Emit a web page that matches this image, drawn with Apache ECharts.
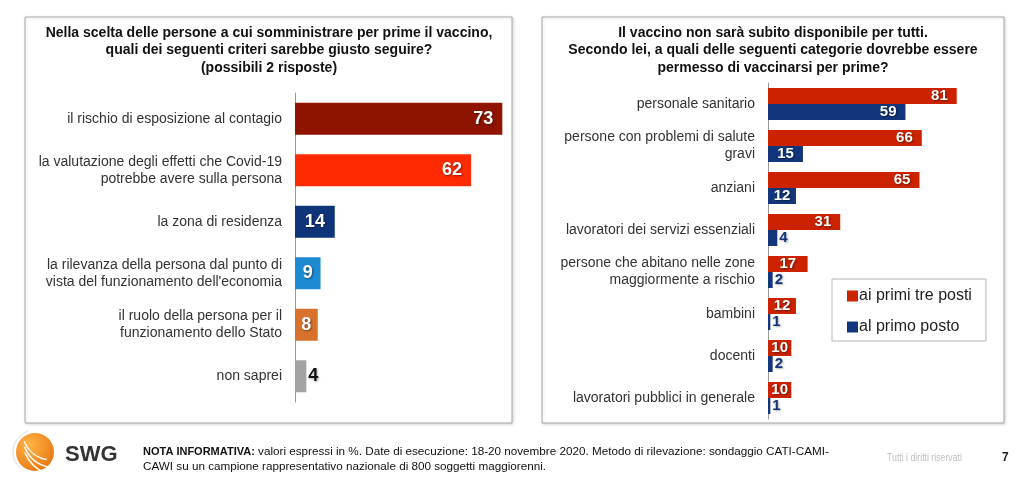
<!DOCTYPE html>
<html>
<head>
<meta charset="utf-8">
<script src="https://cdn.jsdelivr.net/npm/echarts@6/dist/echarts.min.js"></script>
<style>
html,body{margin:0;padding:0;background:#fff;}
#chart{width:1024px;height:485px;}
</style>
</head>
<body>
<div id="chart"></div>
<script>
// ---- Data ----
var leftCategories = [
  'il rischio di esposizione al contagio',
  'la valutazione degli effetti che Covid-19\npotrebbe avere sulla persona',
  'la zona di residenza',
  'la rilevanza della persona dal punto di\nvista del funzionamento dell\'economia',
  'il ruolo della persona per il\nfunzionamento dello Stato',
  'non saprei'
];
var leftValues = [73, 62, 14, 9, 8, 4];

var rightCategories = [
  'personale sanitario',
  'persone con problemi di salute\ngravi',
  'anziani',
  'lavoratori dei servizi essenziali',
  'persone che abitano nelle zone\nmaggiormente a rischio',
  'bambini',
  'docenti',
  'lavoratori pubblici in generale'
];
var seriesTop3Name = 'ai primi tre posti';
var seriesTop3 = [81, 66, 65, 31, 17, 12, 10, 10];
var seriesFirstName = 'al primo posto';
var seriesFirst = [59, 15, 12, 4, 2, 1, 2, 1];

// ---- Styles ----
var leftPalette = ['#8E1400', '#FF2A00', '#0E347A', '#1D8AD2', '#D8712C', '#A3A3A3'];
var redColor = '#CC2200';
var navyColor = '#12357B';
var FONT = '"Liberation Sans", Arial, Helvetica, sans-serif';
var shadow = {textShadowColor: 'rgba(0,0,0,0.45)', textShadowBlur: 2, textShadowOffsetX: 1, textShadowOffsetY: 1};
var softShadow = {textShadowColor: 'rgba(0,0,0,0.3)', textShadowBlur: 2, textShadowOffsetX: 1, textShadowOffsetY: 1};

function labelFor(v, minInside, outsideColor, size) {
  var inside = v >= minInside;
  var pos = !inside ? 'right' : (v < 20 ? 'inside' : 'insideRight');
  return Object.assign({
    show: true,
    position: pos,
    distance: inside ? 9 : 2,
    color: inside ? '#fff' : outsideColor,
    fontSize: size,
    fontWeight: 'bold',
    fontFamily: FONT
  }, inside ? shadow : softShadow);
}

var leftData = leftValues.map(function (v, i) {
  return {value: v, itemStyle: {color: leftPalette[i]}, label: labelFor(v, 8, '#111', 18)};
});
var top3Data = seriesTop3.map(function (v) {
  return {value: v, label: labelFor(v, 8, redColor, 15)};
});
var firstData = seriesFirst.map(function (v) {
  return {value: v, label: labelFor(v, 12, navyColor, 15)};
});

var chart = echarts.init(document.getElementById('chart'), null, {renderer: 'canvas'});

var option = {
  backgroundColor: '#fff',
  animation: false,
  textStyle: {fontFamily: FONT},
  legend: {
    data: [seriesTop3Name, seriesFirstName],
    orient: 'vertical',
    left: 832,
    top: 279,
    width: 155,
    itemWidth: 11,
    itemHeight: 11,
    itemGap: 15,
    icon: 'rect',
    padding: [9, 14, 6, 15],
    borderColor: '#b5b5b5',
    borderWidth: 1,
    textStyle: {fontSize: 16, color: '#222', fontFamily: FONT, padding: [0, 0, 0, -4]}
  },
  grid: [
    {left: 295, top: 93, width: 284, height: 309},
    {left: 768, top: 83, width: 233, height: 336}
  ],
  xAxis: [
    {gridIndex: 0, type: 'value', min: 0, max: 100, show: false},
    {gridIndex: 1, type: 'value', min: 0, max: 100, show: false}
  ],
  yAxis: [
    {
      gridIndex: 0, type: 'category', inverse: true, data: leftCategories,
      axisLine: {show: true, lineStyle: {color: '#9a9a9a', width: 1}},
      axisTick: {show: false},
      axisLabel: {fontSize: 14, color: '#333', margin: 13, lineHeight: 17, fontFamily: FONT}
    },
    {
      gridIndex: 1, type: 'category', inverse: true, data: rightCategories,
      axisLine: {show: true, lineStyle: {color: '#9a9a9a', width: 1}},
      axisTick: {show: false},
      axisLabel: {fontSize: 14, color: '#333', margin: 13, lineHeight: 17, fontFamily: FONT}
    }
  ],
  series: [
    {
      type: 'bar', xAxisIndex: 0, yAxisIndex: 0, barWidth: 32,
      data: leftData, silent: true
    },
    {
      name: seriesTop3Name, type: 'bar', xAxisIndex: 1, yAxisIndex: 1,
      barWidth: 16, barGap: '0%', itemStyle: {color: redColor},
      data: top3Data, silent: true
    },
    {
      name: seriesFirstName, type: 'bar', xAxisIndex: 1, yAxisIndex: 1,
      barWidth: 16, barGap: '0%', itemStyle: {color: navyColor},
      data: firstData, silent: true
    }
  ],
  graphic: [
    {type: 'rect', z: -10, shape: {x: 25, y: 17, width: 487, height: 406},
      style: {fill: '#fff', stroke: '#a8a8a8', lineWidth: 1, shadowColor: 'rgba(0,0,0,0.15)', shadowBlur: 3, shadowOffsetX: 1, shadowOffsetY: 1}},
    {type: 'rect', z: -10, shape: {x: 542, y: 17, width: 462, height: 406},
      style: {fill: '#fff', stroke: '#a8a8a8', lineWidth: 1, shadowColor: 'rgba(0,0,0,0.15)', shadowBlur: 3, shadowOffsetX: 1, shadowOffsetY: 1}},
    {type: 'text', x: 269, y: 24, style: {
      text: 'Nella scelta delle persone a cui somministrare per prime il vaccino,\nquali dei seguenti criteri sarebbe giusto seguire?\n(possibili 2 risposte)',
      textAlign: 'center', textVerticalAlign: 'top', fill: '#111',
      font: 'bold 14px ' + FONT, lineHeight: 17.5}},
    {type: 'text', x: 773, y: 24, style: {
      text: 'Il vaccino non sarà subito disponibile per tutti.\nSecondo lei, a quali delle seguenti categorie dovrebbe essere\npermesso di vaccinarsi per prime?',
      textAlign: 'center', textVerticalAlign: 'top', fill: '#111',
      font: 'bold 14px ' + FONT, lineHeight: 17.5}},
    // logo
    {type: 'circle', shape: {cx: 35, cy: 452, r: 19},
      style: {fill: new echarts.graphic.RadialGradient(0.35, 0.3, 0.8, [{offset: 0, color: '#FFB347'}, {offset: 1, color: '#E8760F'}])}},
    {type: 'arc', shape: {cx: 52, cy: 430, r: 30, startAngle: 1.75, endAngle: 2.75}, style: {stroke: '#fff', lineWidth: 1.5, fill: null}},
    {type: 'arc', shape: {cx: 56, cy: 434, r: 34, startAngle: 1.8, endAngle: 2.75}, style: {stroke: '#fff', lineWidth: 1.5, fill: null}},
    {type: 'arc', shape: {cx: 60, cy: 438, r: 38, startAngle: 1.95, endAngle: 2.75}, style: {stroke: '#fff', lineWidth: 1.5, fill: null}},
    {type: 'arc', shape: {cx: 35, cy: 452, r: 22, startAngle: 2.3, endAngle: 4.4}, style: {stroke: '#ddd', lineWidth: 1, fill: null}},
    {type: 'text', x: 65, y: 455, style: {text: 'SWG', font: 'bold 22px ' + FONT, fill: '#333', textVerticalAlign: 'middle'}},
    {type: 'text', x: 143, y: 444, style: {
      rich: {
        b: {font: 'bold 11px ' + FONT, fill: '#111'},
        n: {font: '11.7px ' + FONT, fill: '#111'}
      },
      text: '{b|NOTA INFORMATIVA:}{n| valori espressi in %. Date di esecuzione: 18-20 novembre 2020. Metodo di rilevazione: sondaggio CATI-CAMI-}\n{n|CAWI su un campione rappresentativo nazionale di 800 soggetti maggiorenni.}',
      lineHeight: 15, textVerticalAlign: 'top'}},
    {type: 'text', x: 887, y: 458, scaleX: 0.76, originX: 0, originY: 0,
      style: {text: 'Tutti i diritti riservati', font: '11.5px ' + FONT, fill: '#bdbdbd', textVerticalAlign: 'middle'}},
    {type: 'text', x: 1002, y: 458, style: {text: '7', font: 'bold 12px ' + FONT, fill: '#222', textVerticalAlign: 'middle'}}
  ]
};
chart.setOption(option);
</script>
</body>
</html>
